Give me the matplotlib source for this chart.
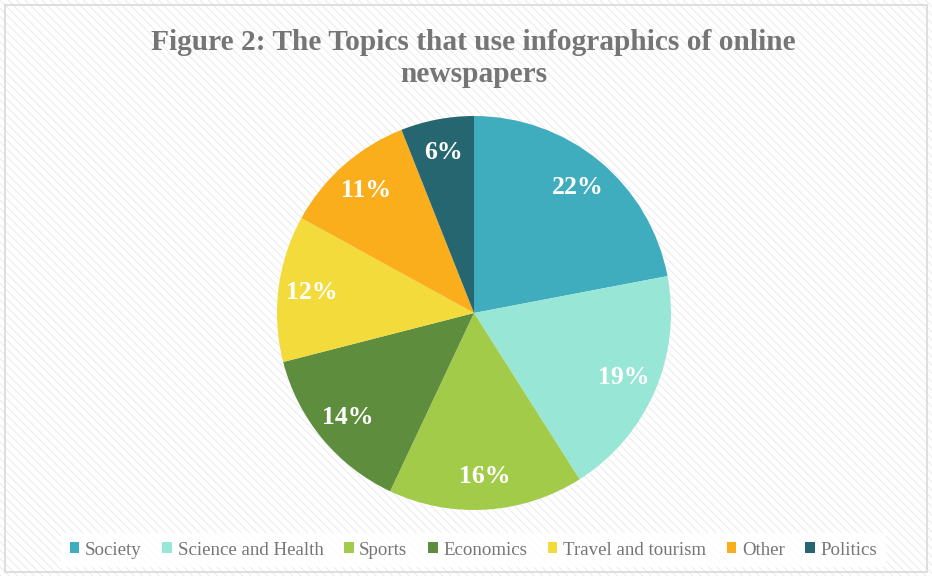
import matplotlib.pyplot as plt
from matplotlib.patches import Rectangle

topics = ["Society", "Science and Health", "Sports", "Economics",
          "Travel and tourism", "Other", "Politics"]
shares = [22, 19, 16, 14, 12, 11, 6]
colors = ["#3FADBE", "#98E6D6", "#A3CB4A", "#5E8E3D", "#F2DB3A", "#FBAE1C", "#256670"]
title = "Figure 2: The Topics that use infographics of online\nnewspapers"

W, H = 932, 576
fig = plt.figure(figsize=(W / 100, H / 100), dpi=100)
fig.patch.set_facecolor("white")

# hatched background + thin border
plt.rcParams["hatch.linewidth"] = 0.8
fig.patches.append(Rectangle((0, 0), 1, 1, transform=fig.transFigure,
                             facecolor="white", edgecolor="#EDEDED",
                             hatch="\\\\\\\\", linewidth=0, zorder=-2))
fig.patches.append(Rectangle((5 / W, 4 / H), (W - 10) / W, (H - 9) / H,
                             transform=fig.transFigure, facecolor="none",
                             edgecolor="#D9D9D9", linewidth=1.2, zorder=-1))

cx, cy, r = 474, H - 313, 197
ax = fig.add_axes([(cx - r) / W, (cy - r) / H, 2 * r / W, 2 * r / H])
wedges, _, autotexts = ax.pie(shares, colors=colors, startangle=90, counterclock=False,
                              autopct="%1.0f%%", pctdistance=0.83,
                              wedgeprops=dict(linewidth=0))
for t in autotexts:
    t.set_color("white")
    t.set_fontsize(18.5)
    t.set_fontweight("bold")
    t.set_family("Liberation Serif")
ax.set_xlim(-1, 1)
ax.set_ylim(-1, 1)
ax.set_aspect("equal")

fig.text(0.508, 0.898, title, ha="center", va="center", fontsize=21.2,
         fontweight="bold", color="#757575", family="Liberation Serif",
         linespacing=1.25)

leg = fig.legend(wedges, topics, loc="center", bbox_to_anchor=(0.508, 0.045),
                 ncol=7, frameon=True, fancybox=False, handlelength=0.5,
                 handleheight=0.5, handletextpad=0.3, columnspacing=1.1,
                 borderpad=0.45, borderaxespad=0,
                 prop={"family": "Liberation Serif", "size": 13.6})
leg.get_frame().set_facecolor("white")
leg.get_frame().set_edgecolor("none")
leg.get_frame().set_alpha(0.85)
for t in leg.get_texts():
    t.set_color("#757575")

fig.savefig("out.png", dpi=100)
